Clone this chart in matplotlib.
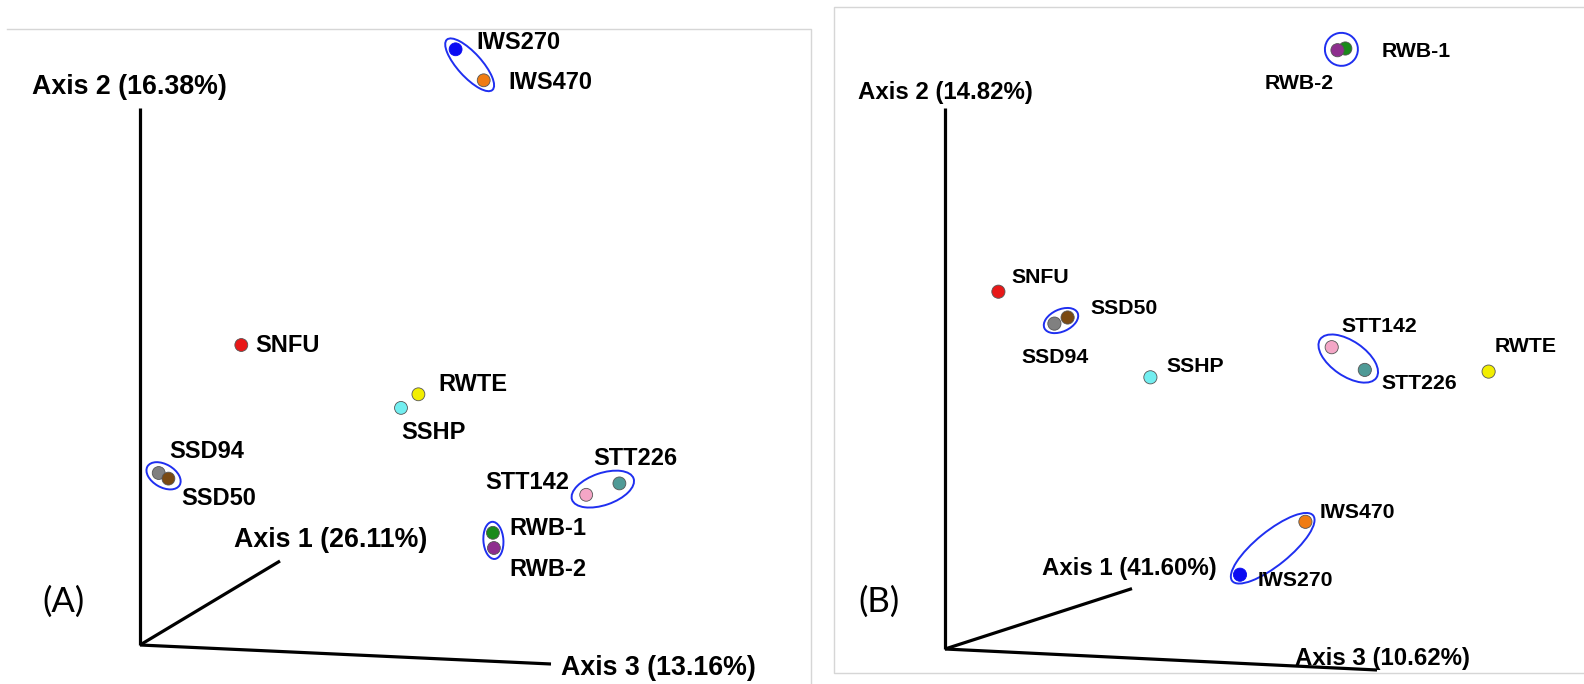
import matplotlib
matplotlib.use("Agg")
import matplotlib.pyplot as plt
from matplotlib.patches import Ellipse
from matplotlib.lines import Line2D
import numpy as np

plt.rcParams['font.family'] = ['Liberation Sans', 'DejaVu Sans']

# ---------------- data ----------------
samples = ["IWS270", "IWS470", "SNFU", "RWTE", "SSHP", "SSD94", "SSD50",
           "STT142", "STT226", "RWB-1", "RWB-2"]
sample_colors = ["#0b0bf2", "#f07c12", "#e81818", "#f2ee00", "#72eef0", "#808080",
                 "#7a4a12", "#f4a6c6", "#4f9a96", "#1a8a1a", "#8e2e8e"]

# Panel A: projected PCoA coordinates (screen-projected 3D ordination)
a_x = [315.6, 343.7, 101.3, 278.4, 261.0, 18.7, 28.4, 446.2, 479.4, 352.9, 353.9]
a_y = [595.7, 564.7, 300.0, 250.7, 237.1, 172.0, 166.4, 150.2, 161.6, 112.2, 97.0]
a_axis_names = ["Axis 1 (26.11%)", "Axis 2 (16.38%)", "Axis 3 (13.16%)"]
a_axis_end_x = [140, 0, 411]
a_axis_end_y = [84, 537, -19]

# Panel B
b_x = [295.0, 360.4, 53.4, 543.6, 205.4, 109.4, 122.6, 386.7, 419.8, 400.3, 392.5]
b_y = [74.3, 127.2, 357.3, 277.4, 271.7, 325.4, 331.5, 301.8, 279.1, 600.5, 598.8]
b_axis_names = ["Axis 1 (41.60%)", "Axis 2 (14.82%)", "Axis 3 (10.62%)"]
b_axis_end_x = [187, 0, 432]
b_axis_end_y = [60.4, 541, -21]

# grouped replicate pairs (circled)
groups = [("IWS270", "IWS470"), ("SSD94", "SSD50"), ("STT142", "STT226"), ("RWB-1", "RWB-2")]

# ---------------- styling ----------------
W, H = 1584, 684
fig = plt.figure(figsize=(W / 100, H / 100), dpi=100)

def px_line(xs, ys, **kw):
    fig.add_artist(Line2D([x / W for x in xs], [1 - y / H for y in ys],
                          transform=fig.transFigure, **kw))

# panel frames (light grey)
frame_kw = dict(color="#d6d6d6", lw=1.0)
px_line([7, 811, 811], [29, 29, 690], **frame_kw)
px_line([1590, 833.5, 833.5, 1590], [7.3, 7.3, 673, 673], **frame_kw)

# label offsets in pixels (dx right, dy down), ha
a_label_off = {
    "IWS270": (21, -7, "left"), "IWS470": (25, 2, "left"), "SNFU": (14, 0, "left"),
    "RWTE": (20, -10, "left"), "SSHP": (0, 25, "left"), "SSD94": (11, -22, "left"),
    "SSD50": (13, 20, "left"), "STT142": (-17, -12, "right"), "STT226": (-26, -25, "left"),
    "RWB-1": (16, -4, "left"), "RWB-2": (15, 21, "left"),
}
b_label_off = {
    "IWS270": (18, 6, "left"), "IWS470": (14, -9, "left"), "SNFU": (13, -14, "left"),
    "RWTE": (6, -25, "left"), "SSHP": (16, -11, "left"), "SSD94": (-33, 34, "left"),
    "SSD50": (23, -9, "left"), "STT142": (10, -21, "left"), "STT226": (17, 14, "left"),
    "RWB-1": (36, 3, "left"), "RWB-2": (-4, 33, "right"),
}
a_ell = {("IWS270", "IWS470"): (13, 12), ("SSD94", "SSD50"): (13, 11.5),
         ("STT142", "STT226"): (15, 16), ("RWB-1", "RWB-2"): (11, 10)}
b_ell = {("IWS270", "IWS470"): (10, 17), ("SSD94", "SSD50"): (11, 11),
         ("STT142", "STT226"): (14, 17.5), ("RWB-1", "RWB-2"): (12.5, 16.5)}

# axis title offsets (dx, dy-down) from axis end points
a_title_off = [(-46, -21), (-108, -21), (10, 4)]
b_title_off = [(-90, -20), (-87, -16), (-82, -11)]


def draw_panel(rect, xlim, ylim, xs, ys, names, ends_x, ends_y, title_off,
               label_off, ell, lab_fs, title_fs, msize):
    ax = fig.add_axes(rect)
    ax.set_xlim(*xlim)
    ax.set_ylim(*ylim)
    ax.axis("off")
    # ordination axes
    for ex, ey in zip(ends_x, ends_y):
        ax.plot([0, ex], [0, ey], color="black", lw=2.3, solid_capstyle="butt",
                clip_on=False, zorder=1)
    for name, ex, ey, (dx, dy) in zip(names, ends_x, ends_y, title_off):
        ax.annotate(name, (ex, ey), xytext=(dx, -dy), textcoords="offset pixels",
                    ha="left", va="center", fontsize=title_fs, fontweight="bold",
                    annotation_clip=False, zorder=5)
    pos = {s: (x, y) for s, x, y in zip(samples, xs, ys)}
    # ellipses around replicate pairs
    for g in groups:
        (x1, y1), (x2, y2) = pos[g[0]], pos[g[1]]
        pad, semi_minor = ell[g]
        d = np.hypot(x2 - x1, y2 - y1)
        ang = np.degrees(np.arctan2(y2 - y1, x2 - x1))
        e = Ellipse(((x1 + x2) / 2, (y1 + y2) / 2), width=d + 2 * pad,
                    height=2 * semi_minor, angle=ang, fill=False,
                    edgecolor="#1f2ff0", lw=1.4, zorder=2, clip_on=False)
        ax.add_patch(e)
    edge = ["#0b0bf2" if c == "#0b0bf2" else "#555555" for c in sample_colors]
    ax.scatter(xs, ys, s=msize, c=sample_colors, edgecolors=edge, linewidths=0.6,
               zorder=3, clip_on=False)
    for s, x, y in zip(samples, xs, ys):
        dx, dy, ha = label_off[s]
        ax.annotate(s, (x, y), xytext=(dx, -dy), textcoords="offset pixels",
                    ha=ha, va="center", fontsize=lab_fs, fontweight="bold",
                    annotation_clip=False, zorder=6)
    return ax


# Panel A : origin at pixel (140, 645)
oxA, oyA, wA = 140, 645, 822
draw_panel([0, 0, wA / W, 1], (-oxA, wA - oxA), (oyA - H, oyA),
           a_x, a_y, a_axis_names, a_axis_end_x, a_axis_end_y, a_title_off,
           a_label_off, a_ell, 17, 19.3, 86)
# Panel B : origin at pixel (945, 649)
oxB, oyB = 945, 649
draw_panel([wA / W, 0, (W - wA) / W, 1], (wA - oxB, W - oxB), (oyB - H, oyB),
           b_x, b_y, b_axis_names, b_axis_end_x, b_axis_end_y, b_title_off,
           b_label_off, b_ell, 15.3, 17.3, 90)

fig.text(42 / W, 1 - 602 / H, "(A)", fontsize=25, family=["Lato", "DejaVu Sans"],
         ha="left", va="center")
fig.text(858 / W, 1 - 602 / H, "(B)", fontsize=25, family=["Lato", "DejaVu Sans"],
         ha="left", va="center")

fig.savefig("out.png", dpi=100, facecolor="white")
